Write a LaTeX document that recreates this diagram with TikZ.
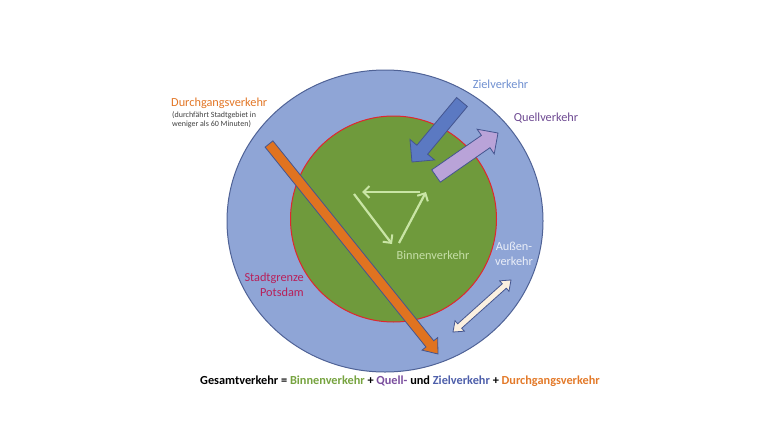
\documentclass[tikz,border=0pt]{standalone}
\usepackage{fontspec}
\setmainfont{Carlito}
\usetikzlibrary{calc,arrows.meta}
\definecolor{outerfill}{HTML}{8FA5D6}
\definecolor{outerline}{HTML}{4F6296}
\definecolor{innerfill}{HTML}{6F9A3C}
\definecolor{innerline}{HTML}{E0262E}
\definecolor{orangeA}{HTML}{E07320}
\definecolor{zielA}{HTML}{5B79C2}
\definecolor{quellA}{HTML}{B9A3D8}
\definecolor{aussenA}{HTML}{FBF0E0}
\definecolor{triA}{HTML}{C9E5A5}
\definecolor{binT}{HTML}{C6DFA8}
\definecolor{zielT}{HTML}{7090D0}
\definecolor{quellT}{HTML}{6E4A92}
\definecolor{aussenT}{HTML}{EAEEF8}
\definecolor{stadtT}{HTML}{B8205A}
\definecolor{durchT}{HTML}{E27626}
\definecolor{smallT}{HTML}{404040}
\definecolor{sumG}{HTML}{76A33F}
\definecolor{sumP}{HTML}{7A4E9E}
\definecolor{sumB}{HTML}{4D5EAA}
\definecolor{sumO}{HTML}{E37A2A}
\definecolor{arrline}{HTML}{44558F}
\newcommand{\blockarrow}[6]{% style, from, to, shaft hw, head hw, head length
  \coordinate (hb) at ($(#3)!#6!(#2)$);
  \draw[#1] ($(#2)!#4!90:(#3)$) -- ($(hb)!#4!-90:(#2)$) -- ($(hb)!#5!-90:(#2)$) -- (#3)
    -- ($(hb)!#5!90:(#2)$) -- ($(hb)!#4!90:(#2)$) -- ($(#2)!#4!-90:(#3)$) -- cycle;}
\newcommand{\dblockarrow}[6]{% style, from, to, shaft hw, head hw, head length
  \coordinate (hb) at ($(#3)!#6!(#2)$);
  \coordinate (ha) at ($(#2)!#6!(#3)$);
  \draw[#1] (#2) -- ($(ha)!#5!90:(#3)$) -- ($(ha)!#4!90:(#3)$) -- ($(hb)!#4!-90:(#2)$) -- ($(hb)!#5!-90:(#2)$) -- (#3)
    -- ($(hb)!#5!90:(#2)$) -- ($(hb)!#4!90:(#2)$) -- ($(ha)!#4!-90:(#3)$) -- ($(ha)!#5!-90:(#3)$) -- cycle;}
\tikzset{
  blk/.style={line width=0.8pt, draw=arrline, line join=miter},
  tri/.style={draw=triA, line width=2.2pt, -{Straight Barb[length=6pt,width=12pt,line width=2pt]}},
  lbl/.style={inner sep=0pt, font=\fontsize{12.3}{14}\selectfont}
}
\begin{document}
\begin{tikzpicture}[x=1pt,y=-1pt]
\useasboundingbox (0,0) rectangle (768,442);
% circles
\draw[fill=outerfill, draw=outerline, line width=1pt] (385,221) ellipse [x radius=158, y radius=151];
\draw[fill=innerfill, draw=innerline, line width=1pt] (393.5,219) circle [radius=103];
% triangle (Binnenverkehr)
\coordinate (t1a) at (420,192); \coordinate (t1b) at (362,192);
\coordinate (t2a) at (354,194); \coordinate (t2b) at (392,244);
\coordinate (t3a) at (399,243); \coordinate (t3b) at (426,192);
\draw[tri] (t1a) -- (t1b);
\draw[tri] (t2a) -- (t2b);
\draw[tri] (t3a) -- (t3b);
% Durchgangsverkehr arrow
\coordinate (dA) at (269,144); \coordinate (dB) at (438,354);
\blockarrow{blk, fill=orangeA}{dA}{dB}{5pt}{10pt}{13pt}
% Zielverkehr arrow
\coordinate (zA) at (462,102); \coordinate (zB) at (412,162);
\blockarrow{blk, fill=zielA}{zA}{zB}{7pt}{16pt}{16pt}
% Quellverkehr arrow
\coordinate (qA) at (436,176); \coordinate (qB) at (498,133);
\blockarrow{blk, fill=quellA}{qA}{qB}{7.5pt}{15pt}{15pt}
% Aussenverkehr double arrow
\coordinate (aA) at (453,332); \coordinate (aB) at (511,280);
\dblockarrow{blk, fill=aussenA}{aA}{aB}{3pt}{7pt}{9pt}
% labels
\node[lbl, anchor=west, text=durchT] (durch) at (171,103) {Durchgangsverkehr};
\node[inner sep=0pt, anchor=north west, align=left, text=smallT, font=\fontsize{8}{9.5}\selectfont] (durchsub) at (172,111) {(durchfährt Stadtgebiet in\\weniger als 60 Minuten)};
\node[lbl, text=zielT] (ziel) at (500.5,84) {Zielverkehr};
\node[lbl, text=quellT] (quell) at (546,118) {Quellverkehr};
\node[lbl, text=binT] (binnen) at (433,255) {Binnenverkehr};
\node[lbl, text=aussenT, align=center, font=\fontsize{12.3}{15.5}\selectfont] (aussen) at (514,254) {Außen-\\verkehr};
\node[lbl, text=stadtT, align=right, anchor=east, font=\fontsize{12.3}{15}\selectfont] (stadt) at (304,285) {Stadtgrenze\\Potsdam};
\node[inner sep=0pt, font=\bfseries\fontsize{12.3}{14}\selectfont] (sum) at (400,381) {Gesamtverkehr = \textcolor{sumG}{Binnenverkehr} + \textcolor{sumP}{Quell-} und \textcolor{sumB}{Zielverkehr} + \textcolor{sumO}{Durchgangsverkehr}};
\end{tikzpicture}
\end{document}
